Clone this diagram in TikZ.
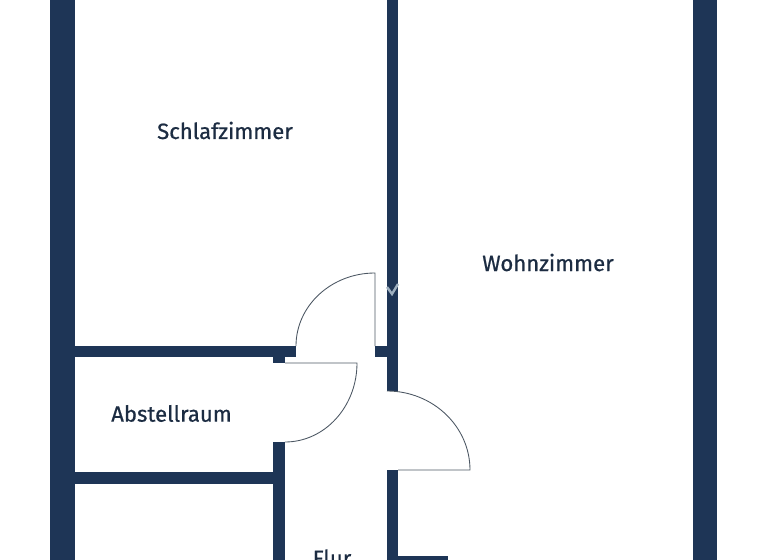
\documentclass[tikz,border=0pt]{standalone}
\usepackage{fontspec}
\setmainfont{Fira Sans}[FakeBold=0.7]
\usetikzlibrary{positioning}
\definecolor{wallblue}{HTML}{1E3556}
\definecolor{labelblue}{HTML}{1C2C42}
\definecolor{doorgrey}{HTML}{4C5763}
\definecolor{markgrey}{HTML}{9FB0C0}

\begin{document}
\begin{tikzpicture}[x=0.75pt,y=-0.75pt,
    wall/.style={fill=wallblue},
    door/.style={draw=doorgrey,line width=0.65pt},
    roomlabel/.style={text=labelblue,font=\fontsize{16.6}{18}\selectfont,inner sep=0pt}]
  \useasboundingbox (0,0) rectangle (768,560);
  \clip (0,0) rectangle (768,560);

  % outer walls
  \fill[wall] (50,0) rectangle (75,560);
  \fill[wall] (693,0) rectangle (717,560);

  % inner walls
  \fill[wall] (387,0) rectangle (398,391);
  \fill[wall] (387,470) rectangle (398,560);
  \fill[wall] (398,556) rectangle (448,560);
  \fill[wall] (75,346) rectangle (296,357);
  \fill[wall] (375,346) rectangle (387,357);
  \fill[wall] (273,357) rectangle (285,363);
  \fill[wall] (75,472) rectangle (273,484);
  \fill[wall] (273,442) rectangle (285,560);

  % doors
  \draw[door] (296,346) arc[start angle=180,end angle=270,x radius=79,y radius=73] -- (375,346);
  \draw[door] (285,363) -- (357,363) arc[start angle=0,end angle=90,x radius=72,y radius=79];
  \draw[door] (398,470) -- (470,470) arc[start angle=0,end angle=-90,x radius=83,y radius=79];

  % rest of the watermark
  \draw[markgrey,line width=1.8pt] (387,287) -- (392,294) -- (398,284);

  \node[roomlabel] (schlaf) at (225,130.5) {Schlafzimmer};
  \node[roomlabel] (wohn) at (548,262.5) {Wohnzimmer};
  \node[roomlabel] (abstell) at (171.5,413.5) {Abstellraum};
  \node[roomlabel,anchor=base] (flur) at (332,566) {Flur};
\end{tikzpicture}
\end{document}
